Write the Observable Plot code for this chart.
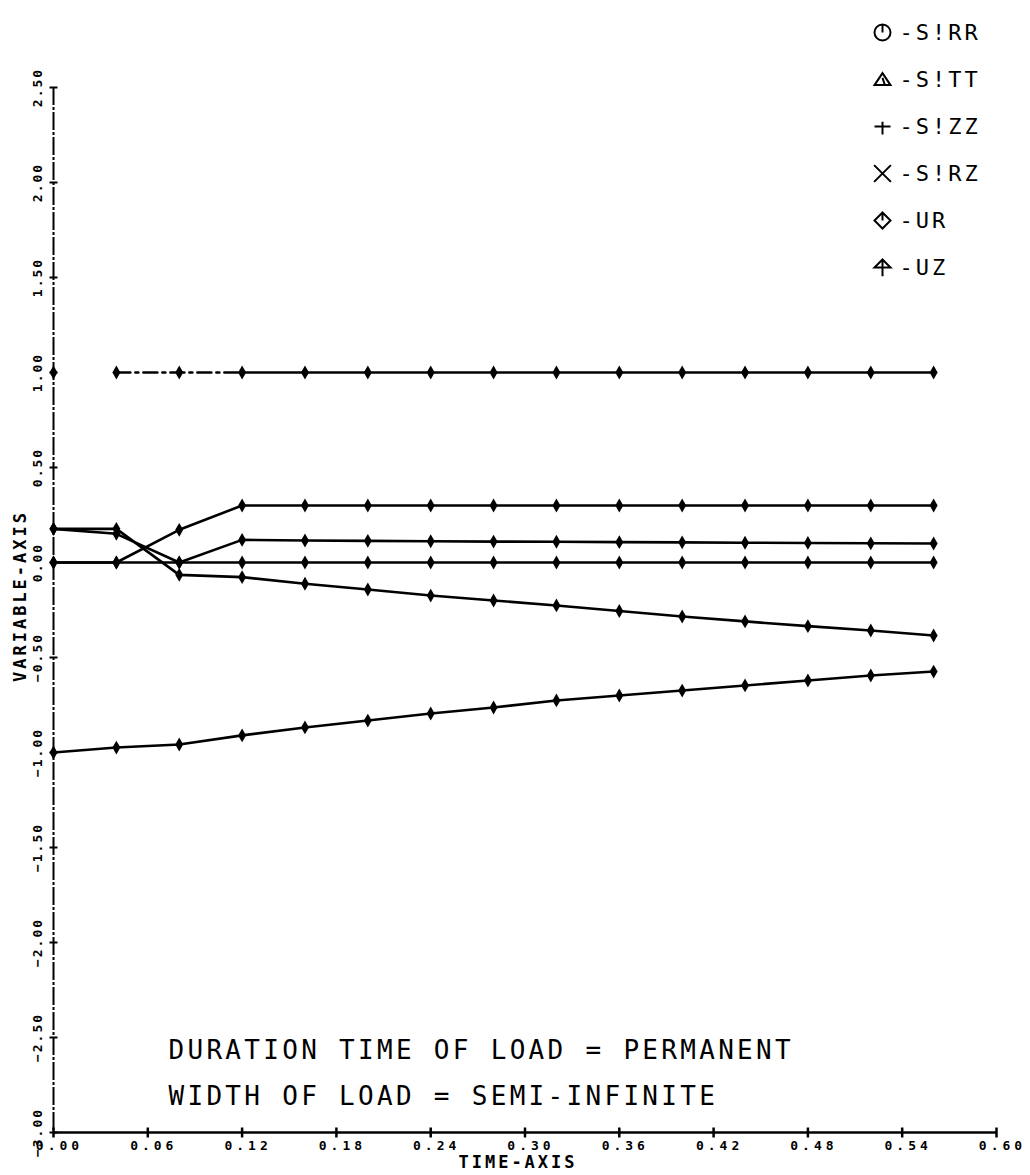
<!DOCTYPE html>
<html><head><meta charset="utf-8">
<script src="https://cdn.jsdelivr.net/npm/d3@7"></script>
<script src="https://cdn.jsdelivr.net/npm/@observablehq/plot@0.6"></script>
<style>html,body{margin:0;padding:0;background:#fff}svg{display:block}</style>
</head><body><div id="chart"></div>
<script>
// ---- data ----
const time = [0, 0.04, 0.08, 0.12, 0.16, 0.20, 0.24, 0.28, 0.32, 0.36, 0.40, 0.44, 0.48, 0.52, 0.56];
const sirr = [0.177, 0.177, -0.065, -0.077, -0.112, -0.142, -0.174, -0.200, -0.226, -0.255, -0.284, -0.310, -0.335, -0.358, -0.384];
const sitt = [0, 0, 0.172, 0.300, 0.300, 0.300, 0.300, 0.300, 0.300, 0.300, 0.300, 0.300, 0.300, 0.300, 0.300];
const sizz = [0, 0, 0, 0.119, 0.116, 0.114, 0.112, 0.110, 0.109, 0.107, 0.106, 0.104, 0.103, 0.101, 0.100];
const sirz = [0.177, 0.151, 0, 0, 0, 0, 0, 0, 0, 0, 0, 0, 0, 0, 0];
const ur   = [-1.000, -0.974, -0.958, -0.910, -0.868, -0.832, -0.795, -0.763, -0.726, -0.700, -0.674, -0.647, -0.621, -0.595, -0.574];
const uz   = [1.00, 1.00, 1.00, 1.00, 1.00, 1.00, 1.00, 1.00, 1.00, 1.00, 1.00, 1.00, 1.00, 1.00, 1.00];
const seriesNames = ["S!RR", "S!TT", "S!ZZ", "S!RZ", "UR", "UZ"];
const xTicks = [0, 0.06, 0.12, 0.18, 0.24, 0.30, 0.36, 0.42, 0.48, 0.54, 0.60];
const yTicks = [-3.0, -2.5, -2.0, -1.5, -1.0, -0.5, 0.0, 0.5, 1.0, 1.5, 2.0, 2.5];
const xTitle = "TIME-AXIS";
const yTitle = "VARIABLE-AXIS";
const annotations = ["DURATION TIME OF LOAD = PERMANENT", "WIDTH OF LOAD = SEMI-INFINITE"];

const seriesValues = [sirr, sitt, sizz, sirz, ur, uz];
const rows = [];
seriesNames.forEach((name, k) => seriesValues[k].forEach((v, i) => rows.push({series: name, t: time[i], v})));
// UZ line is not drawn between the first two points; dash-dot early, solid later
const uzRows = rows.filter(d => d.series === "UZ" && d.t > 0.02);
const otherRows = rows.filter(d => d.series !== "UZ");

// ---- custom symbols ----
const rad = size => Math.sqrt(size / Math.PI);
const hTick = {draw(c, s) { const r = rad(s); c.moveTo(-r, 0); c.lineTo(r, 0); }};
const vTick = {draw(c, s) { const r = rad(s); c.moveTo(0, -r); c.lineTo(0, r); }};
const symCircleTick = {draw(c, s) { const r = rad(s); c.moveTo(r, 0); c.arc(0, 0, r, 0, 2 * Math.PI); c.moveTo(0, -r); c.lineTo(0, 0); }};
const symTri = {draw(c, s) { const r = rad(s); c.moveTo(0, -r * 0.8); c.lineTo(r, r * 0.7); c.lineTo(-r, r * 0.7); c.closePath(); c.moveTo(0, -r*0.2); c.lineTo(r*0.3, r*0.7); }};
const symPlus = {draw(c, s) { const r = rad(s); c.moveTo(-r, 0); c.lineTo(r, 0); c.moveTo(0, -r * 0.6); c.lineTo(0, r); }};
const symTimes = {draw(c, s) { const r = rad(s) * 1.05; c.moveTo(-r, -r); c.lineTo(r, r); c.moveTo(r, -r); c.lineTo(-r, r); }};
const symDiamond = {draw(c, s) { const r = rad(s); c.moveTo(0, -r); c.lineTo(r, 0); c.lineTo(0, r); c.lineTo(-r, 0); c.closePath(); c.moveTo(0, -r); c.lineTo(0, 0); }};
const symArrow = {draw(c, s) { const r = rad(s); c.moveTo(0, -r); c.lineTo(r, 0); c.lineTo(-r, 0); c.closePath(); c.moveTo(0, -r); c.lineTo(0, r * 1.1); }};
const legendSymbols = [symCircleTick, symTri, symPlus, symTimes, symDiamond, symArrow];

const xDom = [0, 0.6], yDom = [-3, 2.5];
const mono = "'DejaVu Sans Mono', 'Liberation Mono', monospace";

const legendMarks = seriesNames.flatMap((name, i) => [
  Plot.dot([name], {x: () => xDom[1], y: () => yDom[1], dx: -114, dy: -55 + i * 47,
    symbol: legendSymbols[i], r: 8, stroke: "black", strokeWidth: 2, fill: "none"}),
  Plot.text([name], {x: () => xDom[1], y: () => yDom[1], dx: -97, dy: -55 + i * 47,
    text: d => "-" + d, textAnchor: "start", lineAnchor: "middle", ariaDescription: "ls-3",
    fontSize: 22, fontFamily: mono, fill: "black"})
]);

const chart = Plot.plot({
  width: 1030, height: 1175,
  marginLeft: 53, marginRight: 34, marginTop: 87, marginBottom: 43,
  x: {domain: xDom, axis: null},
  y: {domain: yDom, axis: null},
  style: {background: "white", color: "black", overflow: "visible"},
  marks: [
    // axes lines
    Plot.ruleX([xDom[0]], {stroke: "black", strokeWidth: 2, strokeDasharray: "18,2,3,2"}),
    Plot.ruleY([yDom[0]], {stroke: "black", strokeWidth: 2.5}),
    // ticks
    Plot.dot(yTicks, {x: () => xDom[0], y: d => d, symbol: hTick, r: 4, stroke: "black", strokeWidth: 2}),
    Plot.dot(xTicks, {x: d => d, y: () => yDom[0], symbol: vTick, r: 5, stroke: "black", strokeWidth: 2.5}),
    // tick labels
    Plot.text(yTicks, {y: d => d, frameAnchor: "left", dx: -16, rotate: -90, ariaDescription: "ls-2",
      text: d => d3.format(".2f")(d), textAnchor: "middle", lineAnchor: "middle",
      fontSize: 13, fontWeight: "bold", fontFamily: mono, fill: "black"}),
    Plot.text(xTicks, {x: d => d, frameAnchor: "bottom", dx: 6, dy: 13, ariaDescription: "ls-4",
      text: d => d3.format(".2f")(d), textAnchor: "middle", lineAnchor: "middle",
      fontSize: 13, fontWeight: "bold", fontFamily: mono, fill: "black"}),
    // axis titles
    Plot.text([xTitle], {frameAnchor: "bottom", dx: -7, dy: 30, textAnchor: "middle", lineAnchor: "middle", ariaDescription: "ls-3",
      fontSize: 17, fontWeight: "bold", fontFamily: mono, fill: "black"}),
    Plot.text([yTitle], {frameAnchor: "left", dx: -33, dy: -14, rotate: -90, textAnchor: "middle", lineAnchor: "middle", ariaDescription: "ls-3",
      fontSize: 17, fontWeight: "bold", fontFamily: mono, fill: "black"}),
    // data lines
    Plot.line(otherRows, {x: "t", y: "v", z: "series", stroke: "black", strokeWidth: 2.6}),
    Plot.line(uzRows.filter(d => d.t <= 0.121), {x: "t", y: "v", stroke: "black", strokeWidth: 2.6, strokeDasharray: "14,5,3,5"}),
    Plot.line(uzRows.filter(d => d.t >= 0.119), {x: "t", y: "v", stroke: "black", strokeWidth: 2.6}),
    Plot.dot(rows, {x: "t", y: "v", symbol: "diamond", r: 4.2, fill: "black"}),
    // annotations
    Plot.text([annotations[0]], {frameAnchor: "bottom-left", dx: 115, dy: -82, textAnchor: "start", lineAnchor: "middle", ariaDescription: "ls-3.3",
      fontSize: 26, fontFamily: mono, fill: "black"}),
    Plot.text([annotations[1]], {frameAnchor: "bottom-left", dx: 115, dy: -36, textAnchor: "start", lineAnchor: "middle", ariaDescription: "ls-3.3",
      fontSize: 26, fontFamily: mono, fill: "black"}),
    ...legendMarks
  ]
});
// letter spacing (not a Plot option): applied to the text groups tagged above
d3.select(chart).selectAll("g[aria-description^='ls-']").each(function() {
  const px = this.getAttribute("aria-description").slice(3);
  d3.select(this).style("letter-spacing", px + "px");
});
document.getElementById("chart").appendChild(chart);
</script>
</body></html>
